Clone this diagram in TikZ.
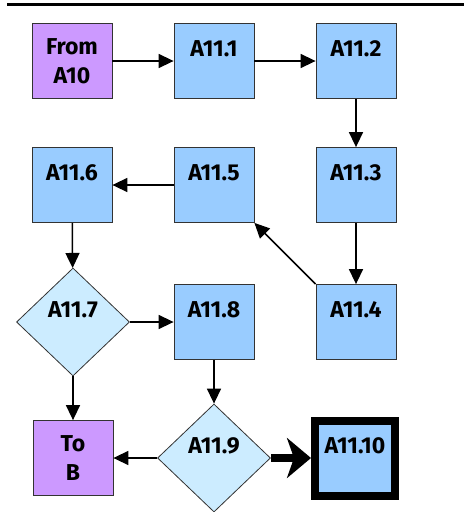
\documentclass[tikz,border=0pt]{standalone}
\usepackage{fontspec}
\setmainfont{Fira Sans}
\usetikzlibrary{arrows.meta,shapes.geometric}
\definecolor{termpurple}{RGB}{204,153,255}
\definecolor{stepblue}{RGB}{153,204,255}
\definecolor{testblue}{RGB}{204,236,255}

\begin{document}
\begin{tikzpicture}[x=1pt,y=-1pt,
  every node/.style={font=\fontsize{23}{29}\selectfont\bfseries},
  termbox/.style={draw=black!80,line width=0.8pt,fill=termpurple,rectangle,minimum width=80pt,minimum height=75pt,align=center,inner sep=0pt},
  stepbox/.style={draw=black!80,line width=0.8pt,fill=stepblue,rectangle,minimum width=80pt,minimum height=75pt,text height=17pt,text depth=26pt,inner sep=0pt},
  testbox/.style={draw=black!80,line width=0.8pt,fill=testblue,diamond,minimum width=113pt,minimum height=108pt,text height=17pt,text depth=26pt,inner sep=0pt},
  flow/.style={-{Triangle[length=15pt,width=14pt]},line width=1.5pt},
  bigflow/.style={-{Stealth[length=24pt,width=40pt,inset=7pt]},line width=8pt}]
  \useasboundingbox (0,0) rectangle (464,512);
  \draw[line width=2.6pt] (7,4.7) -- (464,4.7);

  \node[termbox] (from) at (72,61) {From\\A10};
  \node[stepbox] (a1) at (214,61) {A11.1};
  \node[stepbox] (a2) at (356,61) {A11.2};
  \node[stepbox] (a3) at (356,185) {A11.3};
  \node[stepbox] (a5) at (214,185) {A11.5};
  \node[stepbox] (a6) at (72,185) {A11.6};
  \node[testbox] (a7) at (73,322) {A11.7};
  \node[stepbox] (a8) at (214,322) {A11.8};
  \node[stepbox] (a4) at (356,322) {A11.4};
  \node[termbox] (tob) at (73,458) {To\\B};
  \node[testbox] (a9) at (214,458) {A11.9};
  \node[stepbox,draw=black,line width=8pt] (a10) at (355,458) {A11.10};

  \draw[flow] (from) -- (a1);
  \draw[flow] (a1) -- (a2);
  \draw[flow] (a2) -- (a3);
  \draw[flow] (a3) -- (a4);
  % the return path runs corner to corner
  \draw[flow] (a4.north west) -- (a5.south east);
  \draw[flow] (a5) -- (a6);
  \draw[flow] (a6) -- (a7);
  \draw[flow] (a7) -- (a8);
  \draw[flow] (a7) -- (tob);
  \draw[flow] (a8) -- (a9);
  \draw[flow] (a9) -- (tob);
  \draw[bigflow] (a9) -- (a10);
\end{tikzpicture}
\end{document}
